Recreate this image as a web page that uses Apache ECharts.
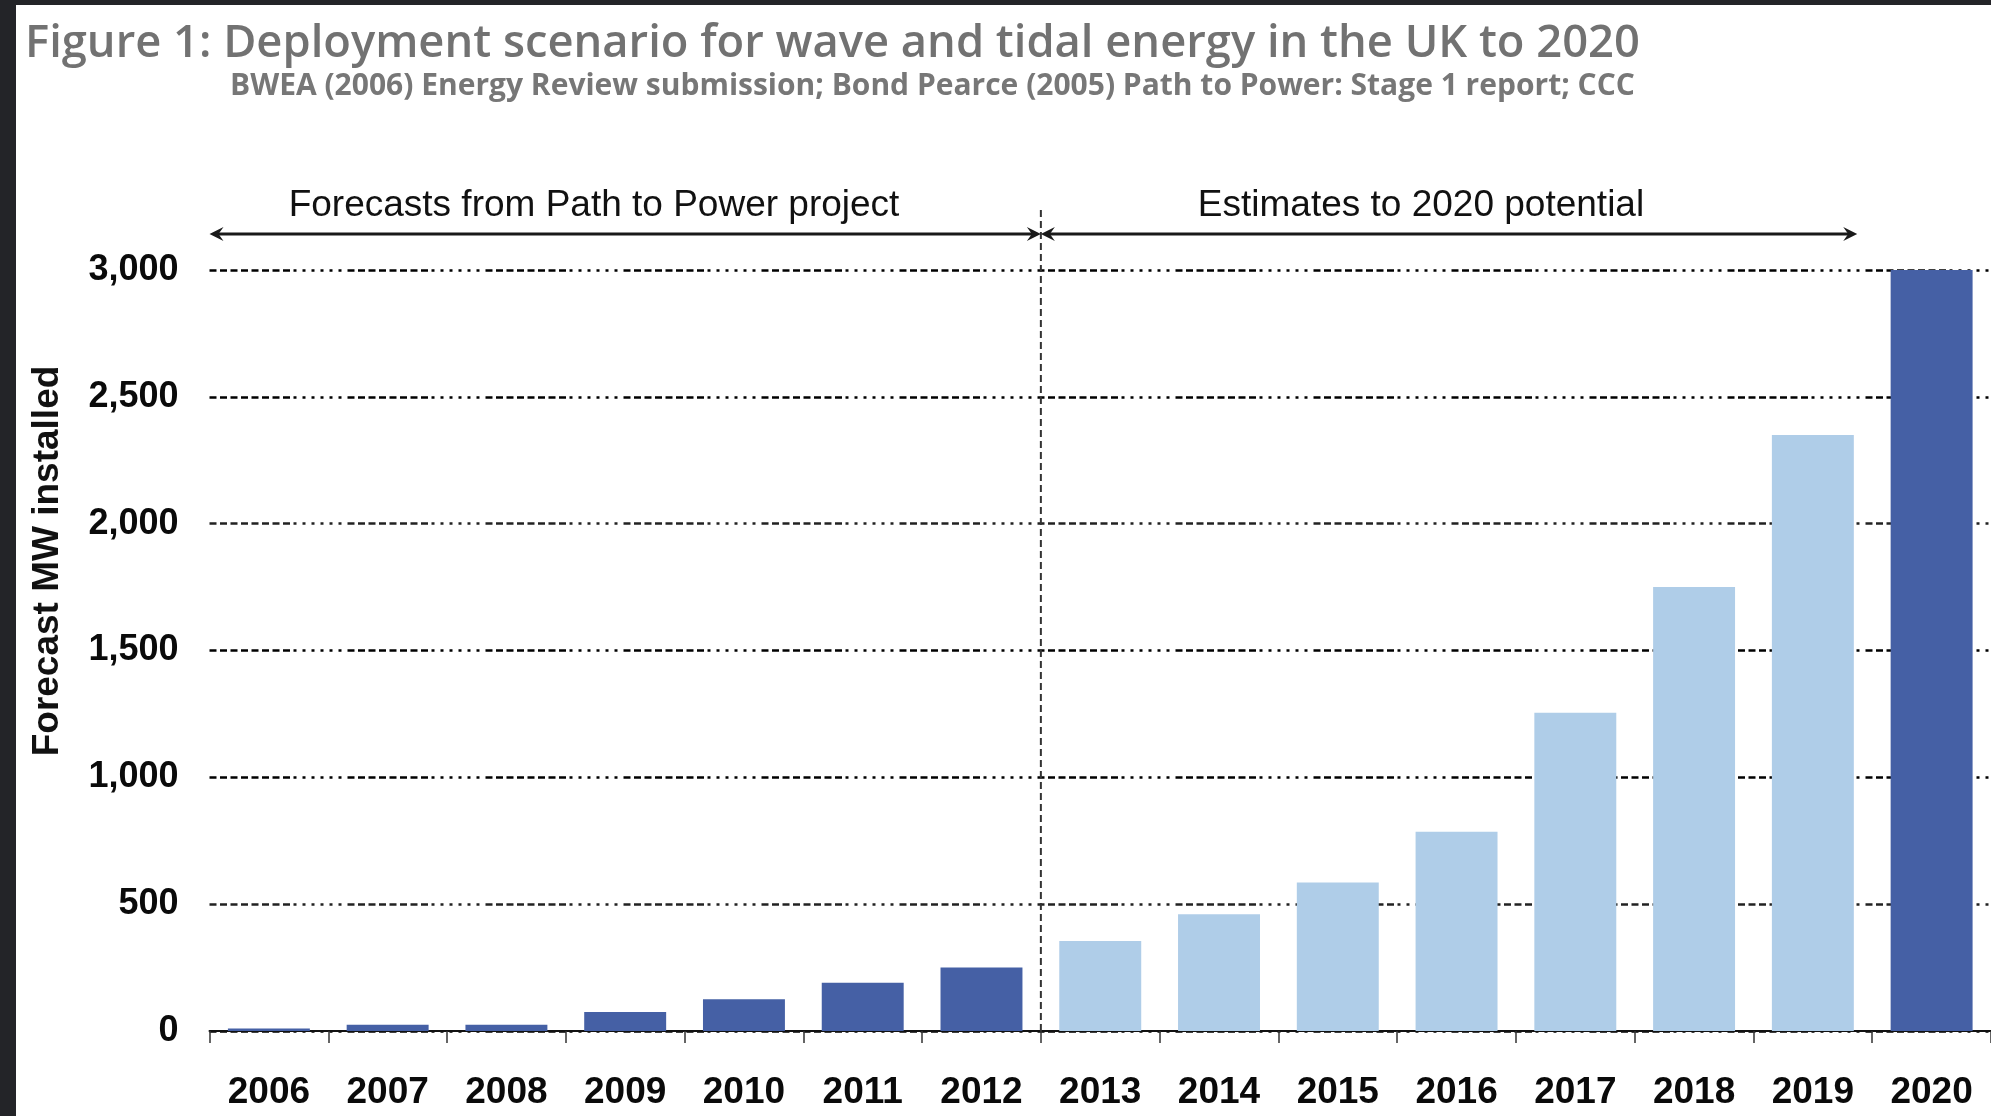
<!DOCTYPE html>
<html>
<head>
<meta charset="utf-8">
<title>Deployment scenario for wave and tidal energy in the UK to 2020</title>
<script src="https://cdn.jsdelivr.net/npm/echarts@6.0.0/dist/echarts.min.js"></script>
<style>
  html, body { margin: 0; padding: 0; width: 1991px; height: 1116px; overflow: hidden; background: #232428; }
  #chart { position: absolute; left: 16px; top: 5px; width: 1975px; height: 1111px; background: #ffffff; }
</style>
</head>
<body>
<div id="chart"></div>
<script>
// Years on the category axis
const years = ['2006', '2007', '2008', '2009', '2010', '2011', '2012',
               '2013', '2014', '2015', '2016', '2017', '2018', '2019', '2020'];

// Forecast installed capacity, MW
const installedMW = [10, 25, 25, 75, 125, 190, 250,
                     355, 460, 585, 785, 1255, 1750, 2350, 3000];

// Which part of the scenario each year belongs to
const phase = ['path', 'path', 'path', 'path', 'path', 'path', 'path',
               'estimate', 'estimate', 'estimate', 'estimate', 'estimate', 'estimate', 'estimate',
               'target'];

// Value-axis ticks
const yMin = 0;
const yMax = 3000;
const yStep = 500;

// Text shown above the plot
const titleText = 'Figure 1: Deployment scenario for wave and tidal energy in the UK to 2020';
const sourceText = 'BWEA (2006) Energy Review submission; Bond Pearce (2005) Path to Power: Stage 1 report; CCC';
const leftSpanText = 'Forecasts from Path to Power project';
const rightSpanText = 'Estimates to 2020 potential';
const yAxisTitle = 'Forecast MW installed';

const phaseColor = { path: '#4560a5', estimate: '#afcde8', target: '#4560a5' };

// Dash pattern of the gridlines: a run of dashes followed by a run of dots
const gridDash = [];
for (let i = 0; i < 8; i++) gridDash.push(7, 3.5);
for (let i = 0; i < 6; i++) gridDash.push(3, 6);

const chart = echarts.init(document.getElementById('chart'), null, { renderer: 'canvas' });

const option = {
  backgroundColor: '#ffffff',
  animation: false,
  grid: { left: 193.5, right: 0, top: 265, bottom: 85, containLabel: false },
  xAxis: {
    type: 'category',
    data: years,
    boundaryGap: true,
    axisLine: { show: true, lineStyle: { color: '#111111', width: 2 } },
    axisTick: { show: true, interval: 0, length: 12, lineStyle: { color: '#333333', width: 1.5 } },
    axisLabel: {
      interval: 0,
      margin: 43,
      color: '#0a0a0a',
      fontFamily: "'Liberation Sans Narrow', 'Arial Narrow', 'Liberation Sans', Arial, sans-serif",
      fontWeight: 'bold',
      fontSize: 37
    },
    splitLine: { show: false }
  },
  yAxis: {
    type: 'value',
    min: yMin,
    max: yMax,
    interval: yStep,
    axisLine: { show: false },
    axisTick: { show: false },
    axisLabel: {
      margin: 31,
      color: '#0a0a0a',
      fontFamily: "'Liberation Sans', Arial, sans-serif",
      fontWeight: 'bold',
      fontSize: 36,
      formatter: v => v.toLocaleString('en-US')
    },
    splitLine: {
      show: true,
      lineStyle: {
        color: ['#000000', '#222222', '#000000', '#000000', '#222222', '#000000', '#000000'],
        width: 2.5,
        type: gridDash
      }
    }
  },
  series: [{
    type: 'bar',
    barCategoryGap: '31%',
    z: 3,
    data: installedMW.map((v, i) => ({
      value: v,
      itemStyle: { color: phaseColor[phase[i]] }
    }))
  }]
};

chart.setOption(option);

// Annotation layer placed from the axis scales
const cx = name => chart.convertToPixel({ xAxisIndex: 0 }, name);
const band = cx(years[1]) - cx(years[0]);
const firstEstimate = years[phase.indexOf('estimate')];
const lastEstimate = years[phase.lastIndexOf('estimate')];
const splitX = cx(firstEstimate) - band / 2;
const leftX = cx(years[0]) - band / 2;
const rightX = cx(lastEstimate) + band / 2 - 15;
const zeroY = chart.convertToPixel({ yAxisIndex: 0 }, yMin);
const arrowY = 229;
const ink = '#1a1a1a';

function head(tipX, y, dir) {
  // dir = -1 points left, +1 points right
  const L = 14, H = 7, N = 9;
  return {
    type: 'polygon',
    z: 10,
    shape: { points: [[tipX, y], [tipX - dir * L, y - H], [tipX - dir * N, y], [tipX - dir * L, y + H]] },
    style: { fill: ink }
  };
}

function shaft(x1, x2, y) {
  return { type: 'line', z: 10, shape: { x1: x1, y1: y, x2: x2, y2: y }, style: { stroke: ink, lineWidth: 3 } };
}

function label(text, x, y, font, extra) {
  return Object.assign({
    type: 'text',
    z: 10,
    x: x,
    y: y,
    style: {
      text: text,
      font: font,
      fill: '#111111',
      align: 'center', textAlign: 'center',
      verticalAlign: 'middle', textVerticalAlign: 'middle'
    }
  }, extra || {});
}

chart.setOption({
  graphic: [
    // Heading and source line
    {
      type: 'text', z: 10, x: 9, y: 39,
      style: { text: titleText, font: "600 45.3px 'Open Sans', Roboto, sans-serif", fill: '#727272',
               align: 'left', textAlign: 'left', verticalAlign: 'middle', textVerticalAlign: 'middle' }
    },
    {
      type: 'text', z: 10, x: 214, y: 81.5,
      style: { text: sourceText, font: "bold 30px 'Open Sans', Roboto, sans-serif", fill: '#777777',
               align: 'left', textAlign: 'left', verticalAlign: 'middle', textVerticalAlign: 'middle' }
    },
    // Divider between the two periods
    {
      type: 'line', z: 9,
      shape: { x1: splitX, y1: 205, x2: splitX, y2: zeroY },
      style: { stroke: '#333333', lineWidth: 2, lineDash: [7, 4] }
    },
    // Span arrows
    shaft(leftX + 6, splitX - 6, arrowY),
    head(leftX, arrowY, -1),
    head(splitX, arrowY, 1),
    shaft(splitX + 6, rightX - 6, arrowY),
    head(splitX, arrowY, -1),
    head(rightX, arrowY, 1),
    // Span captions
    label(leftSpanText, 578, 200.5, "37px 'Liberation Sans', Arial, sans-serif"),
    label(rightSpanText, 1405, 200.5, "37px 'Liberation Sans', Arial, sans-serif"),
    // Value-axis title
    label(yAxisTitle, 32, 556, "bold 37px 'Liberation Sans', Arial, sans-serif", { rotation: Math.PI / 2 })
  ]
});
</script>
</body>
</html>
